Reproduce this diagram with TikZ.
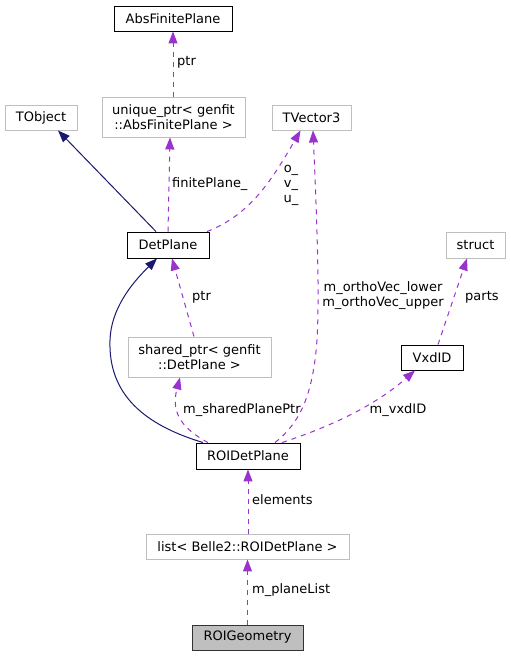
\documentclass[tikz,border=0pt]{standalone}
\usepackage{fontspec}
\setmainfont{DejaVu Sans}
\usetikzlibrary{arrows.meta}
\definecolor{edgepurple}{HTML}{9A32CD}
\definecolor{edgenavy}{HTML}{191970}
\definecolor{graybox}{HTML}{BFBFBF}
\tikzset{
  box/.style={draw=black, line width=0.9pt, inner sep=0pt, align=center, font=\fontsize{13}{15}\selectfont},
  gbox/.style={draw=graybox, line width=0.9pt, inner sep=0pt, align=center, font=\fontsize{13}{15}\selectfont},
  mainbox/.style={box, fill=graybox, draw=black!80},
  usage/.style={color=edgepurple, line width=1pt, dash pattern=on 5pt off 5pt,
     -{Triangle[length=12pt,width=9pt]}},
  inherit/.style={color=edgenavy, line width=1pt,
     -{Triangle[length=12pt,width=9pt]}},
  lbl/.style={inner sep=0pt, align=center, text=black, font=\fontsize{13}{15}\selectfont},
}
\begin{document}
\begin{tikzpicture}[x=1pt,y=-1pt]
\useasboundingbox (0,0) rectangle (511,656);
% nodes
\node[box, minimum width=118pt, minimum height=25pt] (abs) at (173,18.5) {AbsFinitePlane};
\node[gbox, minimum width=143pt, minimum height=40pt] (uniq) at (173.5,117) {unique\_ptr< genfit\\::AbsFinitePlane >};
\node[gbox, minimum width=72pt, minimum height=25pt] (tobj) at (41,117.5) {TObject};
\node[gbox, minimum width=79pt, minimum height=25pt] (tvec) at (311.5,117.5) {TVector3};
\node[box, minimum width=82pt, minimum height=26pt] (det) at (168,245) {DetPlane};
\node[gbox, minimum width=59pt, minimum height=26pt] (struct) at (475.5,245) {struct};
\node[gbox, minimum width=143pt, minimum height=40pt] (shared) at (199.5,357) {shared\_ptr< genfit\\::DetPlane >};
\node[box, minimum width=62pt, minimum height=25pt] (vxd) at (432,357.5) {VxdID};
\node[box, minimum width=104pt, minimum height=26pt] (roi) at (248,456) {ROIDetPlane};
\node[gbox, minimum width=203pt, minimum height=25pt] (list) at (247.5,546.5) {list< Belle2::ROIDetPlane >};
\node[mainbox, minimum width=111pt, minimum height=25pt] (geom) at (247.5,637.5) {ROIGeometry};
% edges
\draw[usage] ([xshift=-0.5pt]uniq.north) -- (abs.south);
\node[lbl, anchor=west] (lptr1) at (177,62) {ptr};
\draw[inherit] ([xshift=-12pt]det.north) -- ([xshift=17pt]tobj.south);
\draw[usage] (det.north) -- ([xshift=-3.5pt]uniq.south);
\node[lbl, anchor=west] (lfin) at (172,184) {finitePlane\_};
\draw[usage] ([xshift=39pt]det.north) .. controls (250,215) and (272,180) .. ([xshift=-11pt]tvec.south);
\node[lbl] (louv) at (291,185) {o\_\\v\_\\u\_};
\draw[usage] ([xshift=27pt]roi.north) .. controls (300,423) and (313,395) .. (317,340) .. controls (320,290) and (316,200) .. ([xshift=1.5pt]tvec.south);
\node[lbl] (lortho) at (383,295.5) {m\_orthoVec\_lower\\m\_orthoVec\_upper};
\draw[inherit] ([xshift=-45pt]roi.north) .. controls (145,425) and (108,395) .. (110,340) .. controls (111,310) and (130,285) .. ([xshift=-11pt]det.south);
\draw[usage] ([xshift=-5.5pt]shared.north) -- ([xshift=4pt]det.south);
\node[lbl, anchor=west] (lptr2) at (192,297) {ptr};
\draw[usage] ([xshift=-40pt]roi.north) .. controls (185,430) and (170,415) .. ([xshift=-19.5pt]shared.south);
\node[lbl, anchor=west] (lshared) at (183,410) {m\_sharedPlanePtr};
\draw[usage] ([xshift=34pt]roi.north) .. controls (320,430) and (370,410) .. ([xshift=-17pt]vxd.south);
\node[lbl] (lvxd) at (398,410) {m\_vxdID};
\draw[usage] ([xshift=6pt]vxd.north) -- ([xshift=-8.5pt]struct.south);
\node[lbl, anchor=west] (lparts) at (465,297) {parts};
\draw[usage] ([xshift=0.5pt]list.north) -- (roi.south);
\node[lbl, anchor=west] (lelem) at (252,500) {elements};
\draw[usage] (geom.north) -- (list.south);
\node[lbl, anchor=west] (lplane) at (252,590) {m\_planeList};
\end{tikzpicture}
\end{document}
